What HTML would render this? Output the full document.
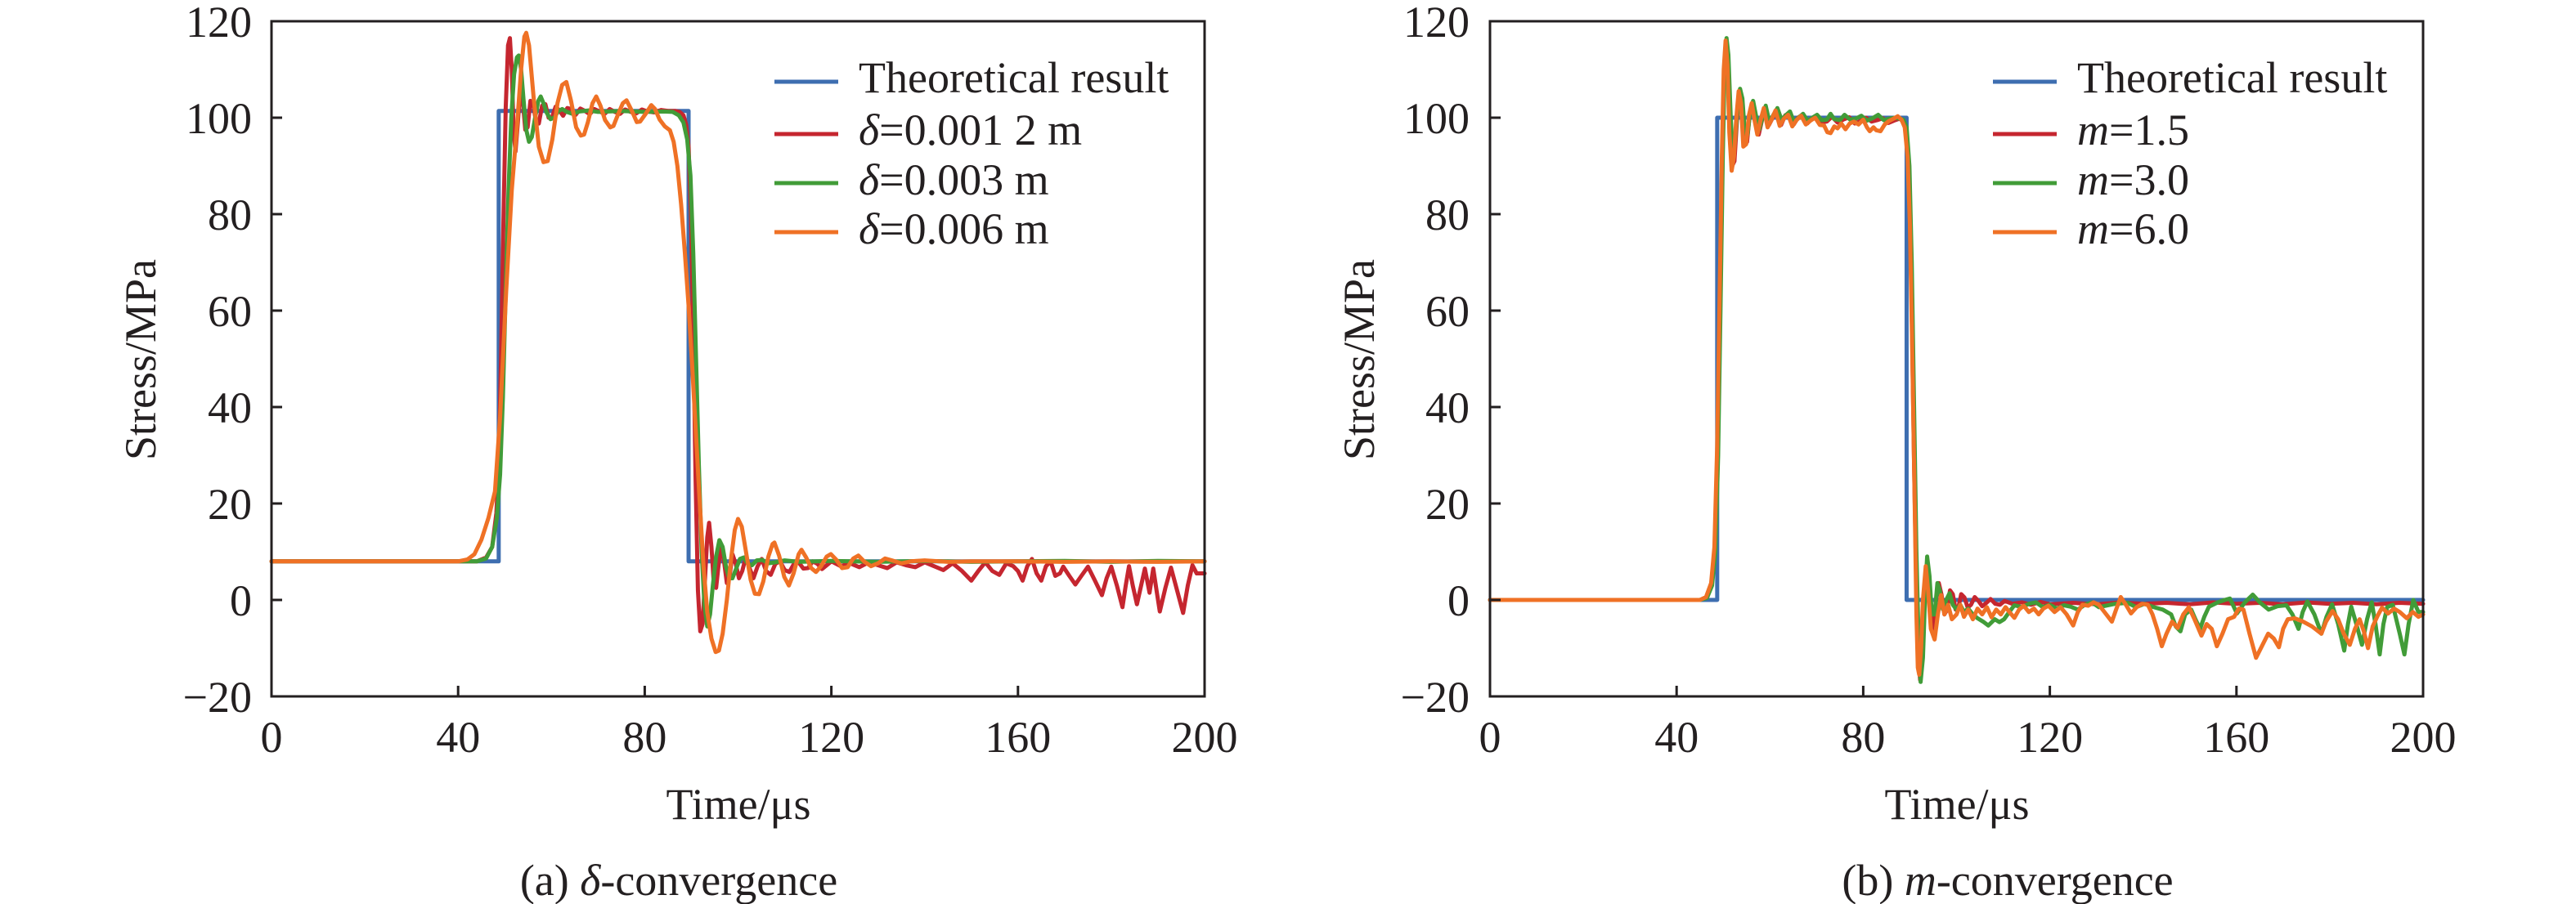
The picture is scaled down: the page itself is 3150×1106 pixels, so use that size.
<!DOCTYPE html>
<html>
<head>
<meta charset="utf-8">
<style>
html,body{margin:0;padding:0;background:#fff;}
svg{display:block;}
text{font-family:"Liberation Serif","DejaVu Serif",serif;fill:#231f20;}
.c{fill:none;stroke-width:5;stroke-linejoin:round;stroke-linecap:round;vector-effect:non-scaling-stroke;}
.b{stroke:#3e6eb0;}
.r{stroke:#c5262f;}
.g{stroke:#419c38;}
.o{stroke:#ef7125;}
.ax{fill:none;stroke:#231f20;stroke-width:3;}
</style>
</head>
<body>
<svg width="3150" height="1106" viewBox="0 0 3150 1106" xmlns="http://www.w3.org/2000/svg" font-family="Liberation Serif, DejaVu Serif, serif">
<rect x="0" y="0" width="3150" height="1106" fill="#fff"/>

<!-- ============ LEFT PANEL (a) ============ -->
<g transform="translate(332,734) scale(5.705,-5.9)">
<polyline class="c b" points="0,8 48.7,8 48.7,101.4 89.4,101.4 89.4,8 200,8"/>
<polyline class="c r" points="0,8 44,8 46,8.8 47.3,11 48.2,18 48.7,28 49.2,50 49.7,78 50.2,102 50.7,115 51.1,116.5 51.5,110 51.9,97 52.3,93 52.8,99 53.4,106.8 53.9,103 54.4,97.5 54.9,98 55.5,103.5 56.1,103 56.7,99 57.3,98.8 58,102.5 58.7,102.8 59.4,100 60.1,100 60.9,102.3 61.7,101.5 62.5,100.4 63.4,102 64.3,101.8 65.2,100.6 66.2,101.9 67.2,101.4 68.2,100.7 69.2,101.8 70.3,101.3 71.4,100.8 72.5,101.8 73.6,101.2 74.7,100.8 75.8,101.7 77,101.2 78.2,100.9 79.4,101.7 80.6,101.3 82,101.1 83.5,101.6 85,101.4 86.5,101.4 87.5,101.2 88.3,100.5 88.9,98.5 89.4,94 89.9,80 90.4,55 90.9,25 91.4,2 91.9,-6.5 92.4,-5 92.9,4 93.4,13 93.8,16 94.3,11 94.8,3.5 95.3,2.5 95.8,7 96.4,11.5 97,8 97.6,3.5 98.2,5 98.8,9.5 99.5,7.5 100.2,4.5 100.9,6 101.7,9 102.5,6.5 103.3,4.5 104.2,7 105.1,8.5 106,6 107,5.2 108,7.5 109,8 110,6.2 111,5.8 112,7.5 113,7.8 114,6.5 115,6.6 116,8 117,7.5 118,6.4 119,7.2 120,8 122,7 124,7.6 126,6.8 128,7.8 130,7.2 132,6.6 134,7.8 136,7.2 138,6.8 140,7.8 142,7 144,6.2 146,7.6 148,6 150,4 151.5,6 153,7.8 154.5,6 156,5.2 157.5,7.6 159,7 160,6 161,4 162,7 163,8.5 164,5.5 165,4 166,7 167,8 168,5 169,5.5 169.7,6.9 171,5 172.3,3.2 173.6,5 175,6.9 176.5,4 178,1 179,4.5 180,6.9 181.2,3 182.4,-1.5 183.1,3 183.8,7 184.6,3 185.5,-0.9 186.4,3 187.2,6.5 188.2,1.5 189,6.5 189.7,2 190.4,-2.4 191.6,2.5 192.8,6.7 194.1,2 195.4,-2.7 196.4,3 197.4,7.2 198.3,5.5 200,5.5"/>
<polyline class="c g" points="0,8 44,8 46,8.6 47.3,11 48.3,17 49,26 49.6,42 50.2,64 50.8,85 51.4,100 52,109 52.6,112.5 53,112.9 53.5,110 54,104 54.6,97.5 55.2,95 55.8,96 56.5,100 57.2,103.5 57.7,104.4 58.3,103 59,101 59.8,99.7 60.6,100 61.4,101.3 62.3,101.8 63.3,101.2 64.5,100.8 66,101.3 68,101.5 70,101.2 75,101.4 80,101.2 84,101.3 86,101.2 87.3,100.5 88.3,99 89.1,95.5 89.8,88 90.4,72 91,50 91.6,28 92.2,10 92.8,-1 93.4,-5.5 94,-3 94.6,3 95.3,9 96,12.4 96.7,11 97.4,7 98.1,4.5 98.8,4.5 99.6,6.5 100.4,8.5 101.2,8.8 102.1,7.5 103,7.2 104,8.2 105.2,8.3 106.5,7.6 108,7.8 110,8.2 113,7.9 120,8.1 130,7.9 140,8.1 150,7.9 160,8 170,8.1 180,7.9 190,8.1 200,8"/>
<polyline class="c o" points="0,8 40,8 42,8.4 43.5,9.5 45,12.5 46.5,17 47.9,22.5 49,38 50.3,64 51.5,85 52.6,98 53.5,110 54.2,116.8 54.6,117.6 55.2,115 56.2,104 57.3,94 58.3,90.8 59.2,91 60.2,95.5 61.3,103 62.3,106.8 63.2,107.4 64.2,103.5 65.3,98 66.3,96.3 67,96.5 67.8,99 68.8,103 69.6,104.4 70.5,102.5 71.5,99.5 72.6,98 73.3,98.3 74.2,100.5 75.3,103 76.1,103.6 77.2,101.5 78.3,99.1 79,99.2 80.2,100.8 81.4,102.6 82.2,101.8 83.2,99.6 84.3,98.2 85.4,97.4 86.2,95 87,90 87.8,82 88.6,72 89.4,61 90.2,48 91,34 91.8,20 92.6,7 93.4,-2.5 94.3,-8 95.2,-10.8 95.9,-10.5 96.7,-7 97.6,0 98.5,8.5 99.3,14.5 100,16.8 100.8,15.2 101.7,10 102.7,4.2 103.6,1.3 104.5,1.2 105.4,3.8 106.5,9 107.4,11.6 107.8,11.9 108.8,9.2 109.9,4.8 110.9,3 111.9,5.5 113,9.5 113.6,10.4 114.6,8.8 115.7,6.6 116.7,5.8 117.8,7 119,9 119.9,9.5 121,8.4 122.3,6.6 123.5,6.8 124.7,8.6 125.8,9.2 127,8 128.5,7 130,7.6 131.5,8.6 133,8.2 135,7.6 137,8 140,8.2 145,7.9 150,8 160,8 170,7.9 180,8 190,7.9 200,8"/>
</g>

<!-- frame & ticks left -->
<rect class="ax" x="332" y="26" width="1141" height="826"/>
<g stroke="#231f20" stroke-width="3">
<line x1="332" y1="144" x2="345" y2="144"/>
<line x1="332" y1="262" x2="345" y2="262"/>
<line x1="332" y1="380" x2="345" y2="380"/>
<line x1="332" y1="498" x2="345" y2="498"/>
<line x1="332" y1="616" x2="345" y2="616"/>
<line x1="332" y1="734" x2="345" y2="734"/>
<line x1="560.2" y1="852" x2="560.2" y2="839"/>
<line x1="788.4" y1="852" x2="788.4" y2="839"/>
<line x1="1016.6" y1="852" x2="1016.6" y2="839"/>
<line x1="1244.8" y1="852" x2="1244.8" y2="839"/>
</g>
<g font-size="54" text-anchor="end">
<text x="308" y="45">120</text>
<text x="308" y="163">100</text>
<text x="308" y="281">80</text>
<text x="308" y="399">60</text>
<text x="308" y="517">40</text>
<text x="308" y="635">20</text>
<text x="308" y="753">0</text>
<text x="308" y="871">−20</text>
</g>
<g font-size="54" text-anchor="middle">
<text x="332" y="920">0</text>
<text x="560.2" y="920">40</text>
<text x="788.4" y="920">80</text>
<text x="1016.6" y="920">120</text>
<text x="1244.8" y="920">160</text>
<text x="1473" y="920">200</text>
<text x="903" y="1002">Time/μs</text>
<text transform="translate(190,440) rotate(-90)">Stress/MPa</text>
<text x="830" y="1095">(a) <tspan font-style="italic">δ</tspan>-convergence</text>
</g>
<!-- legend left -->
<g stroke-width="5">
<line x1="947" y1="100" x2="1025" y2="100" stroke="#3e6eb0"/>
<line x1="947" y1="164" x2="1025" y2="164" stroke="#c5262f"/>
<line x1="947" y1="224" x2="1025" y2="224" stroke="#419c38"/>
<line x1="947" y1="284" x2="1025" y2="284" stroke="#ef7125"/>
</g>
<g font-size="54">
<text x="1050" y="113">Theoretical result</text>
<text x="1050" y="177"><tspan font-style="italic">δ</tspan>=0.001 2 m</text>
<text x="1050" y="238"><tspan font-style="italic">δ</tspan>=0.003 m</text>
<text x="1050" y="298"><tspan font-style="italic">δ</tspan>=0.006 m</text>
</g>

<!-- ============ RIGHT PANEL (b) ============ -->
<g transform="translate(1822,734) scale(5.705,-5.9)">
<polyline class="c b" points="0,0 48.7,0 48.7,100 89.3,100 89.3,0 200,0"/>
<polyline class="c r" points="0,0 45,0 46.5,0.5 47.5,3 48.2,10 48.8,30 49.3,60 49.8,90 50.2,110 50.6,116 51,112 51.5,98 51.9,90 52.4,91 52.9,99 53.4,105 53.9,103 54.5,95 55.1,95 55.7,101 56.3,103 56.9,99.5 57.6,96.5 58.3,99.5 59,102 59.8,98.5 60.6,100 61.5,101.5 62.4,98.5 63.3,100.5 64.2,100.8 65.1,98.6 66,100 67,100.6 68,98.8 69,99.8 70,100.3 71,99 72.2,99.2 73.3,100.2 74.5,99 75.7,99.6 77,100.1 78.2,98.8 79.4,99.3 80.6,100 81.8,99.2 83,99.5 84.2,99.9 85.4,98.9 86.6,99.4 87.8,99.8 88.6,99.2 89.3,97 89.9,85 90.4,60 90.9,28 91.4,2 91.8,-12 92.2,-16.6 92.6,-13 93.1,-2 93.6,6 94.1,4 94.6,-4 95.1,-6 95.6,0 96.2,3.5 96.8,1 97.4,-3 98,-2 98.6,2 99.2,1.2 99.8,-2 100.4,-1.6 101,1.2 101.7,0.5 102.4,-1.6 103.1,-1 103.9,0.6 104.7,-0.2 105.5,-1.3 106.4,-0.6 107.3,0.2 108.3,-0.8 109.3,-1 110.3,-0.2 112,-0.8 114,-0.5 116,-1 118,-0.4 120,-0.9 125,-0.6 130,-0.9 135,-0.5 140,-0.8 145,-0.6 150,-0.9 155,-0.5 160,-0.8 165,-0.6 170,-0.9 175,-0.5 180,-0.8 185,-0.6 190,-0.9 195,-0.6 200,-0.8"/>
<polyline class="c g" points="0,0 45,0 46.5,0.4 47.6,3 48.3,10 48.9,30 49.4,60 49.9,92 50.3,111 50.7,116.5 51.1,113 51.6,100 52,93 52.5,95 53,101 53.6,106 54.1,104 54.6,97 55.2,96.5 55.8,101.5 56.4,103.5 57,100.5 57.7,97.5 58.4,100 59.1,102.5 59.9,99 60.7,100.5 61.6,102 62.5,99.5 63.4,100.5 64.3,101.3 65.2,99 66.1,100 67.1,100.8 68.1,99.3 69.1,100 70.1,100.6 71.1,99.5 72.2,99.6 73,100.8 73.8,99.7 75,99.5 76,100.6 77.2,99.6 78.4,99.8 79.6,100.4 80.8,99.4 82,99.9 83.2,100.6 84.4,99.5 85.6,99.8 86.8,100 87.8,99.8 88.6,99.6 89.3,98 89.9,90 90.4,70 90.9,40 91.4,10 91.9,-10 92.3,-17 92.8,-12 93.3,2 93.7,9 94.2,5 94.7,-3 95.3,-3 95.9,3.5 96.4,2 97.1,-2 97.8,0 98.5,1.4 99.2,-1 100,-2 100.8,-1 101.6,-2.5 102.5,-1.8 103.5,-3 104.5,-3.8 105.7,-4.5 106.8,-5.3 108.2,-4 109.2,-4.6 110.2,-4 111.3,-2.5 112.4,-1.1 114,-1.5 115.5,-0.8 117,-0.5 118.5,-1.5 120,-1 121.5,-1.8 123,-1.1 124.5,-1.4 126,-2 127.5,-1 129,-0.5 130.5,-1.5 132,-1.2 134,-0.8 136.7,-0.6 138.5,-1.5 140.3,-0.8 142.3,-1.5 144.2,-2 146,-3 147,-5.5 148,-6.5 149,-3 150.3,-2 151.2,-4 152.2,-6 153.1,-3.5 154.1,-1.4 156,-0.5 157.5,0 158.6,0.3 160.1,-2.8 161.8,-0.5 163.5,1.1 165,-0.5 166.9,-2 168.8,-1.3 170.7,-1.1 172,-3 173.3,-6 174.2,-2.5 175.2,-0.3 176.7,-3 178.2,-7 179.3,-3.5 180.5,-0.9 181.8,-5 183.1,-10.5 183.9,-5 184.6,-1.4 185.7,-5 186.9,-9.3 188,-4 189,-0.5 189.8,-5 190.7,-11.3 191.5,-5 192.3,-1.5 193.5,-1 195,-7 196,-11.3 196.9,-5 197.9,0 199,-2.5 200,-2.5"/>
<polyline class="c o" points="0,0 45,0 46.3,0.6 47.4,3.5 48.1,11 48.7,32 49.2,62 49.7,92 50.1,110 50.5,116 50.9,111 51.3,97 51.8,89 52.3,92 52.8,100 53.3,105.5 53.8,103 54.3,94 54.9,94.5 55.5,100.5 56.1,103 56.7,99.5 57.3,96.5 58,99.5 58.7,102 59.5,98 60.3,99.5 61.2,101.5 62.1,98.3 63,99.8 63.9,100.6 64.8,98.2 65.7,99.5 66.7,100.4 67.7,98.6 68.7,99.4 69.7,100 70.7,98.5 71.6,98.4 72.3,97 73,96.8 73.8,98.2 74.5,97.8 75.3,98.8 76.2,97.6 77.1,98.8 78,99.2 79,98.6 80,99.6 80.8,98 81.4,97.2 82.2,98 82.8,97.4 83.7,97.2 84.6,98.6 85.5,99.3 86.5,99.8 87.4,100.3 88.2,99.6 88.9,98 89.5,92 90,78 90.5,52 91,22 91.4,-3 91.7,-14 92,-15.5 92.4,-10 92.8,0 93.4,7 93.9,2 94.5,-6 95.3,-8.2 96,-3 96.7,1 97.4,-3 98.2,-1 99,-4 100,-3 100.8,-1 101.6,-3.5 102.5,-2 103.5,-4 104.5,-1.8 105.5,-3 106.5,-1.5 107.5,-3.6 108.5,-2 109.5,-3 110.5,-1.5 111.5,-2.7 112.4,-3.7 113.4,-2 114.4,-1.2 115.5,-2.5 116.6,-1.8 117.6,-3 118.6,-1.8 119.7,-1.2 121,-2.5 122.3,-1.5 123.6,-3 125,-5.3 126,-2.5 127,-1 128.2,-1.2 129.4,-0.5 130.5,-1 131.7,-2.5 133.3,-4.5 134.2,-2 135.2,0.6 136.3,-1 137.4,-2.8 138.6,-1.5 139.8,-0.8 141,-1 142,-3 143,-6 144,-9.6 145,-7 146.2,-4.5 147.4,-5.8 148.6,-3 149.8,-1.5 151,-4 152.5,-7.4 153.6,-5 154.7,-6 155.8,-9.6 157,-7 158.2,-4 159.5,-3.5 160.5,-1.8 161.5,-2 162.8,-7 164.2,-12 165.5,-9.5 166.8,-7 168,-8 169.1,-9.8 170,-6 171,-4 172.5,-3.8 174.3,-4.5 176.2,-5.5 178.2,-7 179.2,-4.5 180.6,-2.3 181.8,-4 183,-7 184.3,-9.3 185.4,-6 186.4,-4 187.3,-6.5 188.2,-10 189.2,-5.5 190.3,-3.2 191.2,-1.6 192.5,-2.8 193.8,-1.8 195,-2.5 196.5,-3.8 197.8,-2.5 199,-3.5 200,-3"/>
</g>

<!-- frame & ticks right -->
<rect class="ax" x="1822" y="26" width="1141" height="826"/>
<g stroke="#231f20" stroke-width="3">
<line x1="1822" y1="144" x2="1835" y2="144"/>
<line x1="1822" y1="262" x2="1835" y2="262"/>
<line x1="1822" y1="380" x2="1835" y2="380"/>
<line x1="1822" y1="498" x2="1835" y2="498"/>
<line x1="1822" y1="616" x2="1835" y2="616"/>
<line x1="1822" y1="734" x2="1835" y2="734"/>
<line x1="2050.2" y1="852" x2="2050.2" y2="839"/>
<line x1="2278.4" y1="852" x2="2278.4" y2="839"/>
<line x1="2506.6" y1="852" x2="2506.6" y2="839"/>
<line x1="2734.8" y1="852" x2="2734.8" y2="839"/>
</g>
<g font-size="54" text-anchor="end">
<text x="1797" y="45">120</text>
<text x="1797" y="163">100</text>
<text x="1797" y="281">80</text>
<text x="1797" y="399">60</text>
<text x="1797" y="517">40</text>
<text x="1797" y="635">20</text>
<text x="1797" y="753">0</text>
<text x="1797" y="871">−20</text>
</g>
<g font-size="54" text-anchor="middle">
<text x="1822" y="920">0</text>
<text x="2050.2" y="920">40</text>
<text x="2278.4" y="920">80</text>
<text x="2506.6" y="920">120</text>
<text x="2734.8" y="920">160</text>
<text x="2963" y="920">200</text>
<text x="2393" y="1002">Time/μs</text>
<text transform="translate(1680,440) rotate(-90)">Stress/MPa</text>
<text x="2455" y="1095">(b) <tspan font-style="italic">m</tspan>-convergence</text>
</g>
<!-- legend right -->
<g stroke-width="5">
<line x1="2437" y1="100" x2="2515" y2="100" stroke="#3e6eb0"/>
<line x1="2437" y1="164" x2="2515" y2="164" stroke="#c5262f"/>
<line x1="2437" y1="224" x2="2515" y2="224" stroke="#419c38"/>
<line x1="2437" y1="284" x2="2515" y2="284" stroke="#ef7125"/>
</g>
<g font-size="54">
<text x="2540" y="113">Theoretical result</text>
<text x="2540" y="177"><tspan font-style="italic">m</tspan>=1.5</text>
<text x="2540" y="238"><tspan font-style="italic">m</tspan>=3.0</text>
<text x="2540" y="298"><tspan font-style="italic">m</tspan>=6.0</text>
</g>
</svg>
</body>
</html>
